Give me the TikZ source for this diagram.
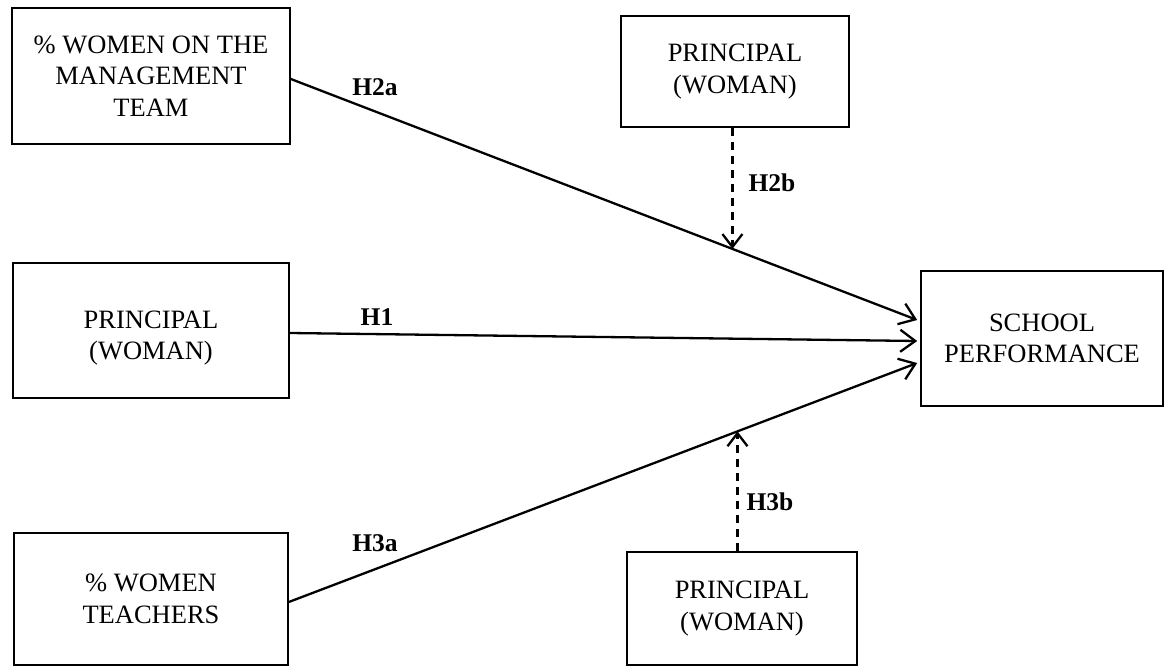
\documentclass[tikz,border=0pt]{standalone}
\usepackage{fontspec}
\setmainfont{Liberation Serif}
\usetikzlibrary{arrows.meta,calc}
\begin{document}
\begin{tikzpicture}[x=1pt,y=-1pt,
  varbox/.style={draw=black, line width=1.6pt, align=center, inner sep=0pt,
    font=\fontsize{26.5}{31.5}\selectfont},
  vartext/.style={align=center, inner sep=0pt, font=\fontsize{26.5}{31}\selectfont},
  link/.style={line width=2.3pt, -{Straight Barb[length=15pt,width=22pt,line width=2.3pt]}},
  modlink/.style={line width=2.3pt, dash pattern=on 8pt off 6pt,
    -{Straight Barb[length=13pt,width=20pt,line width=2.3pt]}},
  hyp/.style={font=\bfseries\fontsize{25.5}{30}\selectfont, inner sep=0pt}]
\useasboundingbox (0,0) rectangle (1166,666);
\fill[white] (0,0) rectangle (1166,666);
% boxes
\node[varbox, minimum width=278pt, minimum height=136pt] (mgmt) at (151,76) {\% WOMEN ON THE\\MANAGEMENT\\TEAM};
\node[varbox, minimum width=276pt, minimum height=135pt] (prin) at (151,330.5) {};
\node[vartext] (printext) at (151,338) {PRINCIPAL\\(WOMAN)};
\node[varbox, minimum width=274pt, minimum height=132pt] (teach) at (151,599) {\% WOMEN\\TEACHERS};
\node[varbox, minimum width=228pt, minimum height=111pt] (ptop) at (735,71.5) {PRINCIPAL\\(WOMAN)};
\node[varbox, minimum width=230pt, minimum height=113pt] (pbot) at (742,608.5) {PRINCIPAL\\(WOMAN)};
\node[varbox, minimum width=242pt, minimum height=135pt] (perf) at (1042,338.5) {SCHOOL\\PERFORMANCE};
% anchor points
\coordinate (s2a) at ([yshift=-3pt]mgmt.east);
\coordinate (t2a) at ([xshift=-3pt,yshift=18.5pt]perf.west);
\coordinate (s1) at ([yshift=-2.5pt]prin.east);
\coordinate (t1) at ([xshift=-3pt,yshift=-2.5pt]perf.west);
\coordinate (s3a) at ([yshift=-3pt]teach.east);
\coordinate (t3a) at ([xshift=-3pt,yshift=-24.5pt]perf.west);
% main paths
\draw[link] (s2a) -- (t2a);
\draw[link] (s1) -- (t1);
\draw[link] (s3a) -- (t3a);
\path (s2a) -- (t2a) coordinate[pos=0.705] (m2);
\path (s3a) -- (t3a) coordinate[pos=0.714] (m3);
% moderating paths
\draw[modlink] (m2 |- ptop.south) -- (m2);
\draw[modlink] (m3 |- pbot.north) -- (m3);
% labels
\node[hyp] (h2a) at (375,87) {H2a};
\node[hyp] (h1) at (377,317) {H1};
\node[hyp] (h3a) at (375,543) {H3a};
\node[hyp] (h2b) at (772,183) {H2b};
\node[hyp] (h3b) at (770,502) {H3b};
\end{tikzpicture}
\end{document}
